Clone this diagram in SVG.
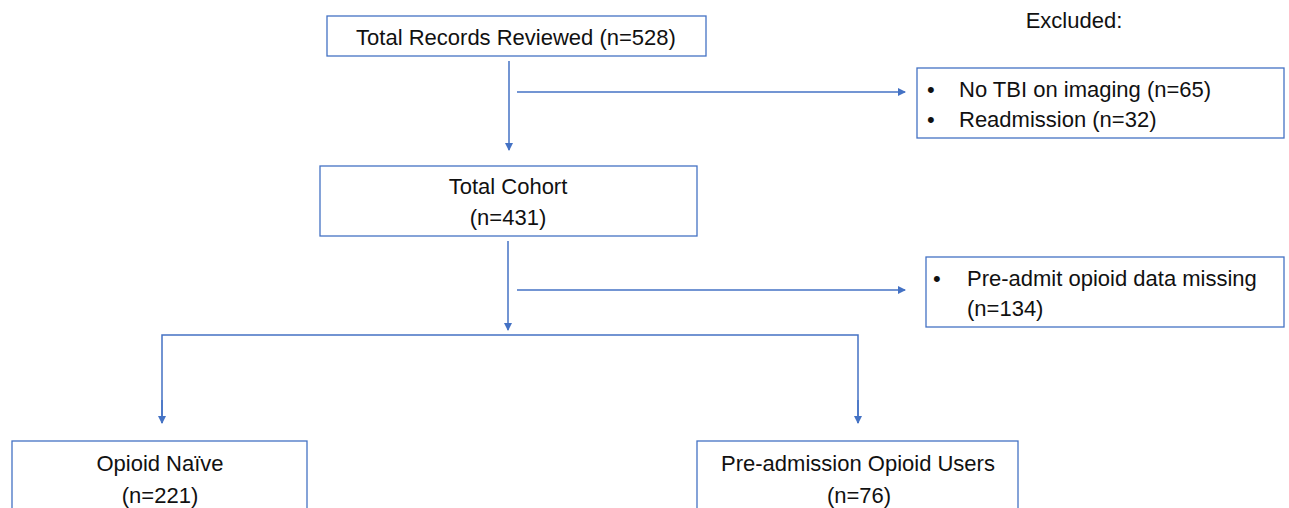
<svg xmlns="http://www.w3.org/2000/svg" width="1289" height="508" viewBox="0 0 1289 508">
<style>
.box{fill:#fff;stroke:#4472C4;stroke-width:1.3}
.ln{fill:none;stroke:#4472C4;stroke-width:1.5}
text{font-family:"Liberation Sans",Arial,sans-serif;font-size:22px;fill:#111}
.c{text-anchor:middle}
</style>
<defs>
<marker id="ah" markerWidth="8" markerHeight="8" refX="7" refY="4" orient="auto" markerUnits="userSpaceOnUse">
<path d="M0,0 L8,4 L0,8 z" fill="#4472C4"/>
</marker>
</defs>
<rect width="1289" height="508" fill="#fff"/>
<g id="connectors">
<line class="ln" x1="509" y1="61" x2="509" y2="150" marker-end="url(#ah)"/>
<line class="ln" x1="517" y1="92" x2="905" y2="92" marker-end="url(#ah)"/>
<line class="ln" x1="508" y1="241" x2="508" y2="330" marker-end="url(#ah)"/>
<line class="ln" x1="517" y1="290" x2="905" y2="290" marker-end="url(#ah)"/>
<polyline class="ln" points="162,423 162,335 858,335 858,423"/>
<line class="ln" x1="162" y1="400" x2="162" y2="423" marker-end="url(#ah)"/>
<line class="ln" x1="858" y1="400" x2="858" y2="423" marker-end="url(#ah)"/>
</g>
<g id="excluded-label">
<text class="c" x="1074" y="28">Excluded:</text>
</g>
<g id="total-records">
<rect class="box" x="327" y="16" width="379" height="40"/>
<text class="c" x="516" y="45">Total Records Reviewed (n=528)</text>
</g>
<g id="excluded-1">
<rect class="box" x="917" y="68" width="367" height="70"/>
<text x="927" y="97">•</text>
<text x="959" y="97">No TBI on imaging (n=65)</text>
<text x="927" y="127">•</text>
<text x="959" y="127">Readmission (n=32)</text>
</g>
<g id="total-cohort">
<rect class="box" x="320" y="166" width="377" height="70"/>
<text class="c" x="508" y="194">Total Cohort</text>
<text class="c" x="508" y="225">(n=431)</text>
</g>
<g id="excluded-2">
<rect class="box" x="926" y="257" width="358" height="70"/>
<text x="933" y="286">•</text>
<text x="967" y="286">Pre-admit opioid data missing</text>
<text x="967" y="316">(n=134)</text>
</g>
<g id="opioid-naive">
<rect class="box" x="12" y="441" width="295" height="80"/>
<text class="c" x="160" y="471">Opioid Naïve</text>
<text class="c" x="160" y="503">(n=221)</text>
</g>
<g id="opioid-users">
<rect class="box" x="697" y="441" width="321" height="80"/>
<text class="c" x="858" y="471">Pre-admission Opioid Users</text>
<text class="c" x="859" y="503">(n=76)</text>
</g>
</svg>
